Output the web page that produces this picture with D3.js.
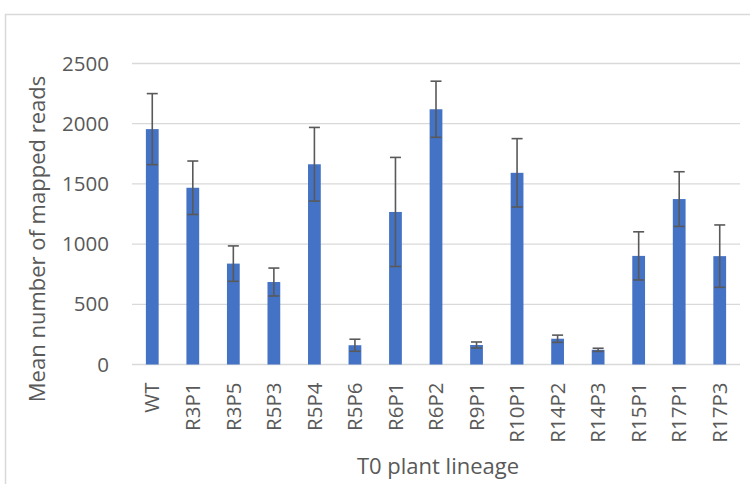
<!DOCTYPE html>
<html>
<head>
<meta charset="utf-8">
<script src="https://cdn.jsdelivr.net/npm/d3@7"></script>
<style>
  html, body { margin: 0; padding: 0; background: #fff; }
  svg { display: block; }
  text { font-family: "Open Sans", "Noto Sans", sans-serif; fill: #595959; }
</style>
</head>
<body>
<svg id="chart" width="750" height="484"></svg>
<script>
// Mean number of mapped reads per T0 plant lineage, with error (± value)
const lineages = ["WT", "R3P1", "R3P5", "R5P3", "R5P4", "R5P6", "R6P1", "R6P2",
                  "R9P1", "R10P1", "R14P2", "R14P3", "R15P1", "R17P1", "R17P3"];
const meanReads = [1955, 1468, 838, 685, 1663, 160, 1267, 2120,
                   162, 1592, 214, 122, 902, 1374, 900];
const errorReads = [295, 222, 147, 116, 306, 50, 453, 233,
                    25, 284, 30, 13, 200, 227, 259];
const yTicks = [0, 500, 1000, 1500, 2000, 2500];

const svg = d3.select("#chart");

// chart area frame
svg.append("rect")
  .attr("x", 5.5).attr("y", 14.5)
  .attr("width", 800).attr("height", 500)
  .attr("fill", "none").attr("stroke", "#d9d9d9").attr("stroke-width", 1.5);

const plot = { left: 132, right: 740, top: 63.5, bottom: 364.5 };

const x = d3.scaleBand()
  .domain(lineages)
  .range([plot.left, plot.right])
  .paddingInner(0.685)
  .paddingOuter(0.3425);

const y = d3.scaleLinear()
  .domain([0, 2500])
  .range([plot.bottom, plot.top]);

// horizontal gridlines
svg.append("g")
  .selectAll("line")
  .data(yTicks)
  .join("line")
  .attr("x1", plot.left).attr("x2", plot.right)
  .attr("y1", d => y(d)).attr("y2", d => y(d))
  .attr("stroke", "#d9d9d9").attr("stroke-width", 1.3);

// y axis tick labels
const yAxis = d3.axisLeft(y).tickValues(yTicks).tickSize(0).tickPadding(0).tickFormat(d3.format("d"));
const gy = svg.append("g")
  .attr("transform", `translate(${plot.left - 23},0)`)
  .call(yAxis);
gy.select(".domain").remove();
gy.selectAll("text")
  .attr("font-size", 20.5)
  .attr("font-family", "'Open Sans', sans-serif")
  .attr("fill", "#595959");

// bars
svg.append("g")
  .selectAll("rect")
  .data(lineages)
  .join("rect")
  .attr("x", d => x(d))
  .attr("width", x.bandwidth())
  .attr("y", (d, i) => y(meanReads[i]))
  .attr("height", (d, i) => y(0) - y(meanReads[i]))
  .attr("fill", "#4472c4");

// error bars
const capHalf = 5.5;
const eb = svg.append("g")
  .attr("stroke", "#595959")
  .attr("stroke-width", 1.6)
  .selectAll("g")
  .data(lineages)
  .join("g");
eb.append("line")
  .attr("x1", d => x(d) + x.bandwidth() / 2)
  .attr("x2", d => x(d) + x.bandwidth() / 2)
  .attr("y1", (d, i) => y(meanReads[i] + errorReads[i]))
  .attr("y2", (d, i) => y(meanReads[i] - errorReads[i]));
eb.append("line")
  .attr("x1", d => x(d) + x.bandwidth() / 2 - capHalf)
  .attr("x2", d => x(d) + x.bandwidth() / 2 + capHalf)
  .attr("y1", (d, i) => y(meanReads[i] + errorReads[i]))
  .attr("y2", (d, i) => y(meanReads[i] + errorReads[i]));
eb.append("line")
  .attr("x1", d => x(d) + x.bandwidth() / 2 - capHalf)
  .attr("x2", d => x(d) + x.bandwidth() / 2 + capHalf)
  .attr("y1", (d, i) => y(meanReads[i] - errorReads[i]))
  .attr("y2", (d, i) => y(meanReads[i] - errorReads[i]));

// category labels, rotated
const xAxis = d3.axisBottom(x).tickSize(0).tickPadding(0);
const gx = svg.append("g")
  .attr("transform", `translate(0,${plot.bottom})`)
  .call(xAxis);
gx.select(".domain").remove();
gx.selectAll("text")
  .attr("font-size", 20.5)
  .attr("font-family", "'Open Sans', sans-serif")
  .attr("fill", "#595959")
  .attr("text-anchor", "end")
  .attr("dy", "0.35em")
  .attr("transform", "translate(0,18) rotate(-90)");

// axis titles
svg.append("text")
  .attr("x", 438).attr("y", 474)
  .attr("text-anchor", "middle")
  .attr("font-size", 22)
  .text("T0 plant lineage");

svg.append("text")
  .attr("transform", "translate(45,239) rotate(-90)")
  .attr("text-anchor", "middle")
  .attr("font-size", 22)
  .text("Mean number of mapped reads");
</script>
</body>
</html>
